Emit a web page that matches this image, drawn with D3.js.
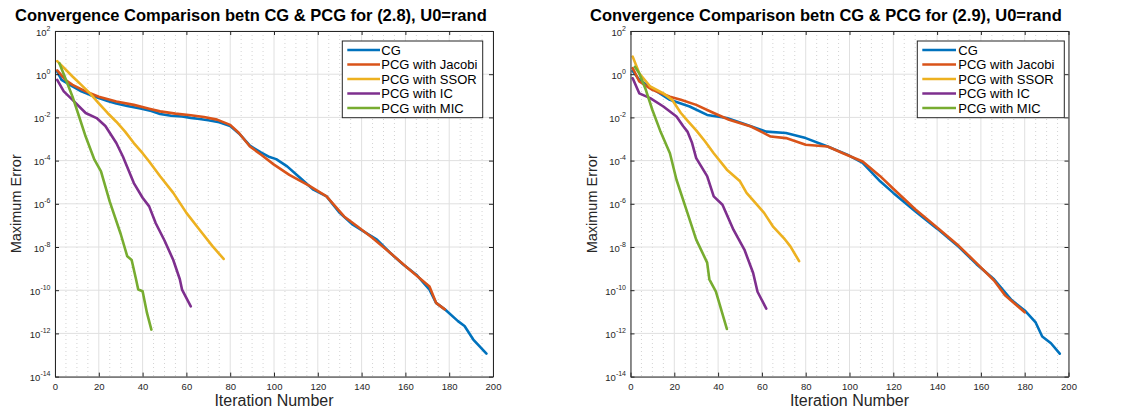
<!DOCTYPE html>
<html>
<head>
<meta charset="utf-8">
<script src="https://cdn.jsdelivr.net/npm/d3@7"></script>
<style>
  body { margin: 0; background: #fff; }
  svg { display: block; }
  text { font-family: "Liberation Sans", Arial, Helvetica, sans-serif; }
</style>
</head>
<body>
<svg id="chart" width="1122" height="412"></svg>
<script>
// ---- tick labels ----
const iterTicks = [0, 20, 40, 60, 80, 100, 120, 140, 160, 180, 200];
const iterMinorTicks = [5, 10, 15, 25, 30, 35, 45, 50, 55, 65, 70, 75, 85, 90, 95, 105, 110, 115,
                        125, 130, 135, 145, 150, 155, 165, 170, 175, 185, 190, 195];
const errorExponents = [2, 0, -2, -4, -6, -8, -10, -12, -14];

// ---- series ----
const seriesNames = ["CG", "PCG with Jacobi", "PCG with SSOR", "PCG with IC", "PCG with MIC"];
const seriesColors = ["#0072BD", "#D95319", "#EDB120", "#7E2F8E", "#77AC30"];

// problem (2.8): [iteration, maximum error]
const cg28 = [[1,1.3],[3,5.5e-1],[8,2.7e-1],[12,1.6e-1],[16,1.1e-1],[20,7.9e-2],[24,5.8e-2],[28,4.4e-2],
  [33,3.4e-2],[39,2.6e-2],[44,2.0e-2],[48,1.45e-2],[53,1.2e-2],[58,1.1e-2],[62,9.5e-3],[66,8.5e-3],
  [70,7.4e-3],[75,6.0e-3],[80,4.0e-3],[84,1.8e-3],[89,4.9e-4],[94,2.4e-4],[98,1.45e-4],[101,1.17e-4],
  [106,5.4e-5],[112,1.55e-5],[118,4.5e-6],[124,2.2e-6],[130,3.8e-7],[136,1.07e-7],[142,4.5e-8],
  [147,2.2e-8],[153,5.4e-9],[159,1.55e-9],[165,5.2e-10],[171,1.07e-10],[174,2.6e-11],[178,1.3e-11],
  [184,3.7e-12],[187,2.2e-12],[191,5.2e-13],[197,1.17e-13]];
const jacobi28 = [[1,1.5],[5,5.2e-1],[8,3.2e-1],[14,1.6e-1],[20,9.1e-2],[28,5.4e-2],[36,3.8e-2],
  [43,2.5e-2],[48,1.9e-2],[55,1.5e-2],[62,1.26e-2],[68,1.05e-2],[74,7.9e-3],[80,4.5e-3],[84,1.9e-3],
  [89,4.5e-4],[94,1.9e-4],[100,6.5e-5],[107,2.2e-5],[116,6.9e-6],[124,2.2e-6],[132,2.6e-7],[138,9.1e-8],
  [145,2.6e-8],[153,5.4e-9],[161,1.07e-9],[171,1.5e-10],[174,2.6e-11],[178,1.3e-11]];
const ssor28 = [[1,4.0],[4,2.0],[8,7.8e-1],[12,3.2e-1],[16,1.3e-1],[20,4.5e-2],[24,1.6e-2],[28,6.3e-3],
  [32,2.2e-3],[36,6.5e-4],[40,2.2e-4],[43,9.1e-5],[48,1.9e-5],[54,3.2e-6],[60,3.8e-7],[66,6.3e-8],
  [72,1.07e-8],[77,2.8e-9]];
const ic28 = [[1,5.5e-1],[4,1.6e-1],[8,6.5e-2],[14,1.6e-2],[19,9.3e-3],[23,4.0e-3],[28,6.5e-4],
  [31,1.55e-4],[36,9.1e-6],[40,1.9e-6],[43,7.6e-7],[46,1.26e-7],[50,2.0e-8],[54,2.5e-9],[57,3.2e-10],
  [58,1.07e-10],[62,1.8e-11]];
const mic28 = [[2,3.2],[5,5.5e-1],[8,9.1e-2],[11,1.1e-2],[14,1.3e-3],[18,1.1e-4],[21,3.2e-5],[25,1.26e-6],
  [30,4.0e-8],[33,3.7e-9],[35,2.5e-9],[37,3.2e-10],[38,1.07e-10],[40,8.9e-11],[42,8.9e-12],[44,1.5e-12]];

// problem (2.9): [iteration, maximum error]
const cg29 = [[1,1.4],[4,5.5e-1],[12,1.6e-1],[18,6.5e-2],[27,3.2e-2],[35,1.3e-2],[44,9.3e-3],[53,4.6e-3],
  [62,2.2e-3],[71,1.9e-3],[80,1.1e-3],[90,4.5e-4],[99,1.9e-4],[106,7.8e-5],[114,1.1e-5],[120,3.2e-6],
  [130,4.5e-7],[140,7.1e-8],[150,1.0e-8],[158,1.6e-9],[166,3.2e-10],[174,3.5e-11],[180,1.15e-11],
  [185,3.2e-12],[188,7.2e-13],[192,3.5e-13],[196,1.15e-13]];
const jacobi29 = [[1,1.9],[4,4.6e-1],[10,1.9e-1],[18,9.1e-2],[23,6.5e-2],[30,3.8e-2],[38,1.6e-2],
  [45,7.8e-3],[55,3.8e-3],[64,1.3e-3],[71,1.1e-3],[80,5.4e-4],[90,4.5e-4],[97,2.2e-4],[106,9.1e-5],
  [114,1.9e-5],[120,5.0e-6],[130,5.6e-7],[140,7.9e-8],[150,1.1e-8],[158,1.8e-9],[166,2.8e-10],
  [171,5.9e-11],[180,9.5e-12]];
const ssor29 = [[1,6.5],[4,1.1],[9,2.7e-1],[15,1.3e-1],[19,6.5e-2],[23,1.6e-2],[26,7.1e-3],[30,2.5e-3],
  [34,7.9e-4],[38,2.2e-4],[44,3.8e-5],[50,1.1e-5],[53,3.2e-6],[61,3.8e-7],[65,9.1e-8],[70,2.6e-8],
  [73,1.07e-8],[77,2.2e-9]];
const ic29 = [[1,6.5e-1],[4,1.3e-1],[9,7.8e-2],[15,3.2e-2],[21,1.1e-2],[24,4.0e-3],[26,2.2e-3],[28,7.1e-4],
  [30,1.3e-4],[35,1.9e-5],[38,2.2e-6],[42,9.1e-7],[47,6.3e-8],[52,7.6e-9],[56,6.3e-10],[58,8.5e-11],
  [62,1.4e-11]];
const mic29 = [[2,2.2],[4,1.1],[7,1.9e-1],[10,2.2e-2],[13.5,2.5e-3],[18,2.2e-4],[21,1.3e-5],[26,3.8e-7],
  [30,2.2e-8],[35,1.9e-9],[36,3.2e-10],[39,8.5e-11],[44,1.6e-12]];

const panels = [
  { title: "Convergence Comparison betn CG & PCG for (2.8), U0=rand",
    left: 55, right: 493, titleX: 15, yLabelX: 20.5,
    legend: { x0: 342.3, x1: 482.7, lineLen: 32.7, textAt: 39 },
    series: [cg28, jacobi28, ssor28, ic28, mic28] },
  { title: "Convergence Comparison betn CG & PCG for (2.9), U0=rand",
    left: 630.5, right: 1068.5, titleX: 590, yLabelX: 596.5,
    legend: { x0: 917.3, x1: 1064.3, lineLen: 33.7, textAt: 41 },
    series: [cg29, jacobi29, ssor29, ic29, mic29] }
];

const plotTop = 31, plotBottom = 376.6;
const axisColor = "#262626";
const svg = d3.select("#chart");

panels.forEach((p, pi) => {
  const x = d3.scaleLinear().domain([0, 200]).range([p.left, p.right]);
  const y = d3.scaleLog().domain([1e-14, 1e2]).range([plotBottom, plotTop]);
  const g = svg.append("g");

  // grid: dotted minor verticals, solid major lines
  g.append("g").selectAll("line").data(iterMinorTicks).join("line")
    .attr("x1", d => x(d)).attr("x2", d => x(d)).attr("y1", plotTop).attr("y2", plotBottom)
    .attr("stroke", "#c8c8c8").attr("stroke-width", 0.8).attr("stroke-dasharray", "1,3");
  g.append("g").selectAll("line").data(iterTicks).join("line")
    .attr("x1", d => x(d)).attr("x2", d => x(d)).attr("y1", plotTop).attr("y2", plotBottom)
    .attr("stroke", "#e0e0e0").attr("stroke-width", 1);
  g.append("g").selectAll("line").data(errorExponents).join("line")
    .attr("x1", p.left).attr("x2", p.right)
    .attr("y1", d => y(Math.pow(10, d))).attr("y2", d => y(Math.pow(10, d)))
    .attr("stroke", "#e0e0e0").attr("stroke-width", 1);

  // data lines
  const clipId = "clip" + pi;
  g.append("clipPath").attr("id", clipId).append("rect")
    .attr("x", p.left).attr("y", plotTop).attr("width", p.right - p.left).attr("height", plotBottom - plotTop);
  const line = d3.line().x(d => x(d[0])).y(d => y(d[1]));
  g.append("g").attr("clip-path", `url(#${clipId})`).selectAll("path").data(p.series).join("path")
    .attr("d", d => line(d)).attr("fill", "none")
    .attr("stroke", (d, i) => seriesColors[i]).attr("stroke-width", 2.6)
    .attr("stroke-linejoin", "round").attr("stroke-linecap", "round");

  // axes box with inward ticks on all sides
  const yTickValues = errorExponents.map(e => Math.pow(10, e));
  const bottomAxis = d3.axisBottom(x).tickValues(iterTicks).tickSizeInner(-4).tickSizeOuter(0).tickPadding(7);
  const topAxis = d3.axisTop(x).tickValues(iterTicks).tickSizeInner(-4).tickSizeOuter(0).tickFormat("");
  const leftAxis = d3.axisLeft(y).tickValues(yTickValues).tickSizeInner(-4).tickSizeOuter(0).tickFormat("");
  const rightAxis = d3.axisRight(y).tickValues(yTickValues).tickSizeInner(-4).tickSizeOuter(0).tickFormat("");

  const styleAxis = sel => {
    sel.select(".domain").attr("stroke", axisColor).attr("stroke-width", 1);
    sel.selectAll(".tick line").attr("stroke", axisColor);
    sel.selectAll(".tick text").attr("fill", axisColor).attr("font-size", "9.5px")
      .attr("font-family", '"Liberation Sans", Arial, sans-serif');
  };
  g.append("g").attr("transform", `translate(0,${plotBottom})`).call(bottomAxis).call(styleAxis);
  g.append("g").attr("transform", `translate(0,${plotTop})`).call(topAxis).call(styleAxis);
  g.append("g").attr("transform", `translate(${p.left},0)`).call(leftAxis).call(styleAxis);
  g.append("g").attr("transform", `translate(${p.right},0)`).call(rightAxis).call(styleAxis);

  // y tick labels as powers of ten
  const yl = g.append("g").selectAll("text").data(errorExponents).join("text")
    .attr("x", p.left - 4.5).attr("y", d => y(Math.pow(10, d)) + 4.5)
    .attr("text-anchor", "end").attr("fill", axisColor).attr("font-size", "9.5px");
  yl.append("tspan").text("10");
  yl.append("tspan").attr("font-size", "7px").attr("dy", -5).text(d => d < 0 ? "-" + (-d) : String(d));

  // title and axis labels
  g.append("text").attr("x", p.titleX).attr("y", 21).attr("font-weight", "bold")
    .attr("font-size", "16.5px").attr("fill", "#000").text(p.title);
  g.append("text").attr("x", (p.left + p.right) / 2).attr("y", 406).attr("text-anchor", "middle")
    .attr("font-size", "16px").attr("fill", axisColor).text("Iteration Number");
  g.append("text").attr("transform", `translate(${p.yLabelX},${(plotTop + plotBottom) / 2}) rotate(-90)`)
    .attr("text-anchor", "middle").attr("font-size", "14.5px").attr("fill", axisColor).text("Maximum Error");

  // legend
  const lg = g.append("g");
  lg.append("rect").attr("x", p.legend.x0).attr("y", 41).attr("width", p.legend.x1 - p.legend.x0)
    .attr("height", 76.7).attr("fill", "#fff").attr("stroke", axisColor).attr("stroke-width", 1);
  const rows = lg.selectAll("g.row").data(seriesNames).join("g").attr("class", "row")
    .attr("transform", (d, i) => `translate(${p.legend.x0 + 5},${50 + i * 14.5})`);
  rows.append("line").attr("x1", 0).attr("x2", p.legend.lineLen).attr("y1", 0).attr("y2", 0)
    .attr("stroke", (d, i) => seriesColors[i]).attr("stroke-width", 2.6);
  rows.append("text").attr("x", p.legend.textAt - 5).attr("y", 4.5).attr("font-size", "13px")
    .attr("fill", "#000").text(d => d);
});
</script>
</body>
</html>
